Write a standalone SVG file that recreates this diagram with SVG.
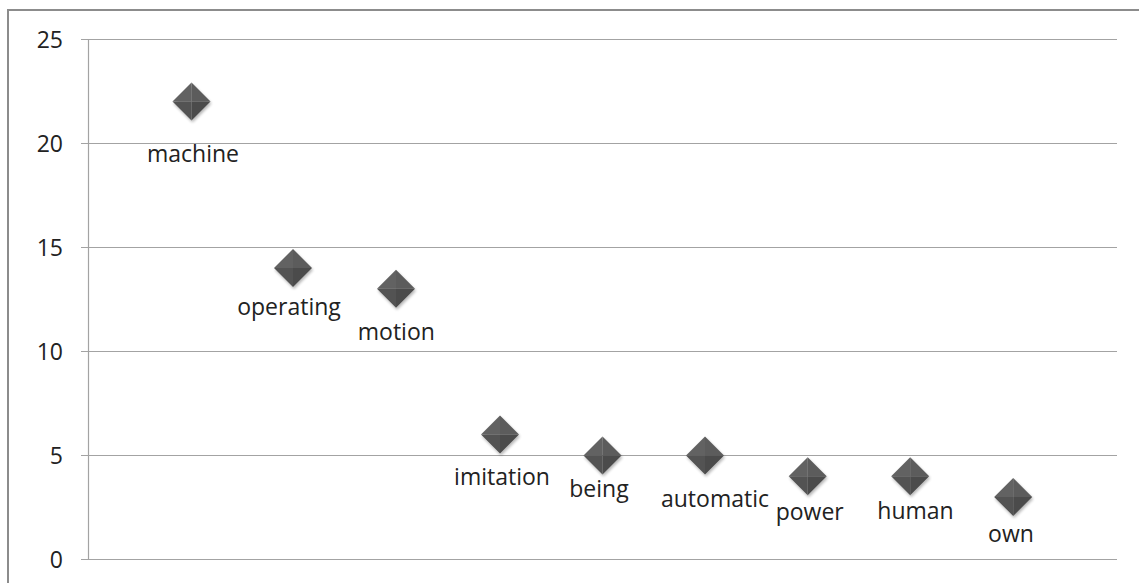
<svg xmlns="http://www.w3.org/2000/svg" xmlns:xlink="http://www.w3.org/1999/xlink" width="1139" height="583" viewBox="0 0 1139 583">
<style>
.grid{stroke:#a3a3a3;stroke-width:1;fill:none}
.axis{stroke:#a3a3a3;stroke-width:1.2;fill:none}
.num{font-family:"Open Sans","Liberation Sans",sans-serif;font-size:23px;fill:#222;text-anchor:end}
.lbl{font-family:"Open Sans","Liberation Sans",sans-serif;font-size:23px;fill:#222;text-anchor:middle}
</style>
<defs>
<filter id="sh" x="-50%" y="-50%" width="200%" height="200%">
<feGaussianBlur in="SourceAlpha" stdDeviation="1.6"/>
<feOffset dx="0.8" dy="1.8" result="b"/>
<feComponentTransfer><feFuncA type="linear" slope="0.3"/></feComponentTransfer>
<feMerge><feMergeNode/><feMergeNode in="SourceGraphic"/></feMerge>
</filter>
<g id="dia" filter="url(#sh)">
<polygon points="0,-19 -19,0 0,0" fill="#626262"/>
<polygon points="0,-19 19,0 0,0" fill="#5b5b5b"/>
<polygon points="-19,0 0,19 0,0" fill="#525252"/>
<polygon points="19,0 0,19 0,0" fill="#4b4b4b"/>
</g>
</defs>
<rect x="0" y="0" width="1139" height="583" fill="#ffffff"/>
<rect x="8" y="10" width="1160" height="600" fill="none" stroke="#8c8c8c" stroke-width="2"/>
<g id="axes">
<line class="grid" x1="81" y1="39.5" x2="1117" y2="39.5"/>
<line class="grid" x1="81" y1="143.5" x2="1117" y2="143.5"/>
<line class="grid" x1="81" y1="247.5" x2="1117" y2="247.5"/>
<line class="grid" x1="81" y1="351.5" x2="1117" y2="351.5"/>
<line class="grid" x1="81" y1="455.5" x2="1117" y2="455.5"/>
<line class="grid" x1="81" y1="559.5" x2="1117" y2="559.5"/>
<line class="axis" x1="88.5" y1="39.5" x2="88.5" y2="560"/>
<text class="num" x="63" y="47.5">25</text>
<text class="num" x="63" y="151.5">20</text>
<text class="num" x="63" y="255.5">15</text>
<text class="num" x="63" y="359.5">10</text>
<text class="num" x="63" y="463.5">5</text>
<text class="num" x="63" y="567.5">0</text>
</g>
<g id="machine"><use xlink:href="#dia" x="191.5" y="101.5"/><text class="lbl" x="193" y="162">machine</text></g>
<g id="operating"><use xlink:href="#dia" x="293" y="268"/><text class="lbl" x="289" y="315">operating</text></g>
<g id="motion"><use xlink:href="#dia" x="396" y="288.8"/><text class="lbl" x="396.3" y="340">motion</text></g>
<g id="imitation"><use xlink:href="#dia" x="500" y="434.6"/><text class="lbl" x="502" y="485">imitation</text></g>
<g id="being"><use xlink:href="#dia" x="602.5" y="455.4"/><text class="lbl" x="599" y="497">being</text></g>
<g id="automatic"><use xlink:href="#dia" x="705" y="455.4"/><text class="lbl" x="715" y="507">automatic</text></g>
<g id="power"><use xlink:href="#dia" x="807.7" y="476.2"/><text class="lbl" x="809.7" y="520">power</text></g>
<g id="human"><use xlink:href="#dia" x="910.2" y="476.2"/><text class="lbl" x="915.5" y="519">human</text></g>
<g id="own"><use xlink:href="#dia" x="1013.2" y="497"/><text class="lbl" x="1011" y="542">own</text></g>
</svg>
